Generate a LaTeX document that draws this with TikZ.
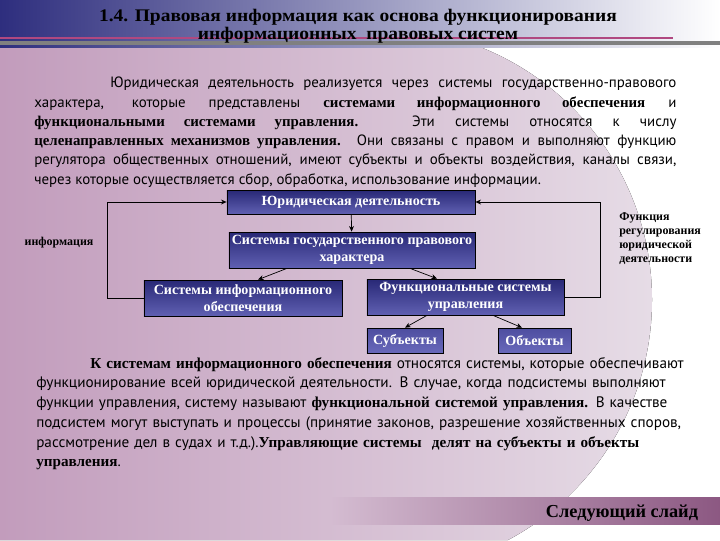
\documentclass[tikz,border=0pt]{standalone}
\usepackage{fontspec}
\setmainfont{Liberation Serif}
\newfontfamily\parafont{PT Sans}
\newfontfamily\titlefont[FakeStretch=1.1]{Liberation Serif}
\usetikzlibrary{arrows.meta}
\newcommand\hb[1]{{\rmfamily\bfseries #1}}
\newcommand\titlesize{\titlefont\bfseries\fontsize{12.6}{12.6}\selectfont\lineskiplimit=-20pt\relax}
\definecolor{hdrblue}{RGB}{46,46,126}
\definecolor{hdrmid}{RGB}{130,130,186}
\definecolor{bgmauve}{RGB}{194,156,188}
\definecolor{bglight}{RGB}{230,220,230}
\definecolor{boxtop}{RGB}{40,40,118}
\definecolor{boxbot}{RGB}{96,96,178}
\definecolor{subtop}{RGB}{78,78,160}
\definecolor{subbot}{RGB}{104,104,186}
\definecolor{barend}{RGB}{140,88,130}
\definecolor{pinkline}{RGB}{176,72,128}
\begin{document}
\begin{tikzpicture}[x=0.025cm,y=-0.025cm,
    block/.style={draw=black,line width=0.5pt,top color=boxtop,bottom color=boxbot,
      text=white,font=\bfseries\fontsize{10}{12}\selectfont,align=center,inner sep=1pt},
    subblock/.style={block,top color=subtop,bottom color=subbot},
    note/.style={font=\bfseries\fontsize{8.5}{10}\selectfont,inner sep=0pt},
    link/.style={-{Stealth[length=4pt,width=3.5pt]},line width=0.5pt}]
  % background
  \useasboundingbox (0,0) rectangle (720,540);
  \fill[white] (0,0) rectangle (720,540);
  \fill[left color=bgmauve,right color=bglight]
    (0,0) -- (380,0) -- (380,28) arc[start angle=-90,end angle=62,radius=272] -- (0,540) -- cycle;
  \fill[left color=hdrblue,middle color=hdrmid,right color=white] (0,0) rectangle (720,47);
  \draw[pinkline,line width=1.4pt] (0,38) -- (673,38);
  \draw[gray,line width=2.2pt] (0,43) -- (720,43);
  \fill[left color=bgmauve!50!bglight,right color=barend] (330,497) rectangle (720,524);

  % title
  \node[font=\titlesize,align=center,inner sep=0pt,anchor=north] (title) at (358,9)
    {1.4. Правовая информация как основа функционирования\\информационных\ \ правовых систем};

  % text
  \node[font=\parafont\fontsize{10.6}{13.7}\selectfont,text width=16.05cm,align=justify,
    inner sep=0pt,anchor=north west] (para1) at (34,77)
    {\hspace*{1.9cm}Юридическая деятельность реализуется через системы государственно-правового\linebreak
     характера, которые представлены \hb{системами информационного обеспечения} и\linebreak
     \hb{функциональными системами управления.} Эти системы относятся к числу\linebreak
     \hb{целенаправленных механизмов управления.} Они связаны с правом и выполняют функцию\linebreak
     регулятора общественных отношений, имеют субъекты и объекты воздействия, каналы связи,\linebreak
     через которые осуществляется сбор, обработка, использование информации.};

  % diagram
  \node[block,minimum width=6.2cm,minimum height=0.6cm] (jur) at (351,202) {Юридическая деятельность};
  \node[block,minimum width=6.15cm,minimum height=0.9cm] (gos) at (352,250) {Системы государственного правового\\характера};
  \node[block,minimum width=4.95cm,minimum height=0.9cm] (inf) at (243,298) {Системы информационного\\обеспечения};
  \node[block,minimum width=4.925cm,minimum height=0.9cm] (func) at (465.5,297) {Функциональные системы\\управления};
  \node[subblock,minimum width=1.9cm,minimum height=0.625cm] (subj) at (405,340.5) {Субъекты};
  \node[subblock,minimum width=1.825cm,minimum height=0.625cm] (obj) at (534.5,340.5) {Объекты};
  \node[note] (info) at (59,243) {информация};
  \node[note,anchor=north west,align=left] (reg) at (619,212)
    {Функция\\регулирования\\юридической\\деятельности};
  \begin{scope}[link]
    \draw (jur) -- (gos);
    \draw ([xshift=-1.625cm]gos.south) -- ([xshift=0.375cm]inf.north);
    \draw ([xshift=1.45cm]gos.south) -- ([xshift=-0.7125cm]func.north);
    \draw ([xshift=-0.9625cm]func.south) -- (subj.north);
    \draw ([xshift=0.6875cm]func.south) -- ([xshift=-0.3125cm]obj.north);
    \draw (inf.west) -- ++(-0.9cm,0) |- (jur.west);
    \draw (func.east) -- ++(0.9cm,0) |- (jur.east);
  \end{scope}

  \node[font=\parafont\fontsize{10.8}{14}\selectfont,text width=16.8cm,align=left,
    inner sep=0pt,anchor=north west] (para2) at (36,357)
    {\hspace*{1.35cm}\hb{К системам информационного обеспечения} относятся системы, которые обеспечивают\\
     функционирование всей юридической деятельности. В случае, когда подсистемы выполняют\\
     функции управления, систему называют \hb{функциональной системой управления.} В качестве\\
     подсистем могут выступать и процессы (принятие законов, разрешение хозяйственных споров,\\
     рассмотрение дел в судах и т.д.).\hb{Управляющие системы\ \ делят на субъекты и объекты}\\
     \hb{управления}.};

  \node[font=\bfseries\fontsize{13}{15}\selectfont,anchor=base east] (next) at (703,517) {Следующий слайд};
\end{tikzpicture}
\end{document}
